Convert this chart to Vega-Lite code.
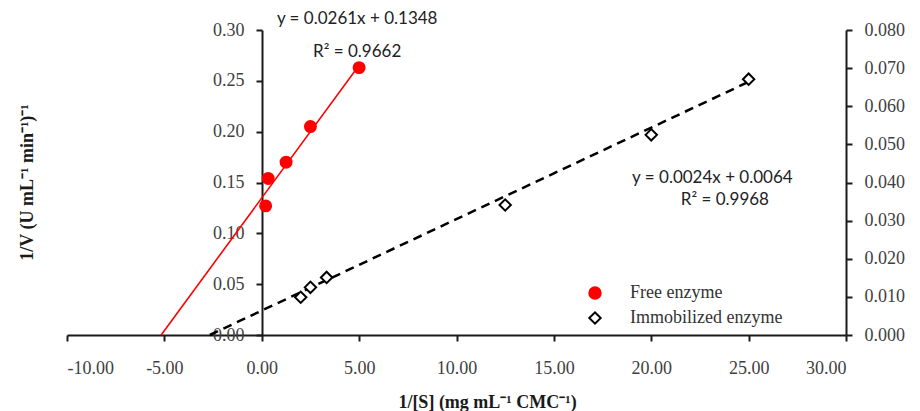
{
  "$schema": "https://vega.github.io/schema/vega-lite/v6.json",
  "width": 779,
  "height": 305,
  "autosize": {"type": "none"},
  "padding": {"left": 67, "top": 30, "right": 74, "bottom": 76},
  "background": "white",
  "config": {
    "view": {"stroke": null},
    "axis": {
      "grid": false,
      "domainColor": "#1a1a1a",
      "domainWidth": 2,
      "tickColor": "#1a1a1a",
      "tickWidth": 2,
      "tickSize": 6,
      "labelFont": "Liberation Serif",
      "labelFontSize": 18,
      "labelColor": "#404040",
      "titleFont": "Liberation Serif",
      "titleFontSize": 18,
      "titleFontWeight": "bold",
      "titleColor": "#1a1a1a"
    },
    "legend": {
      "labelFont": "Liberation Serif",
      "labelFontSize": 18,
      "labelColor": "#333333"
    }
  },
  "datasets": {
    "free": [
      {"x": 0.2, "y": 0.127, "series": "Free enzyme"},
      {"x": 0.33, "y": 0.154, "series": "Free enzyme"},
      {"x": 1.25, "y": 0.170, "series": "Free enzyme"},
      {"x": 2.5, "y": 0.205, "series": "Free enzyme"},
      {"x": 5.0, "y": 0.263, "series": "Free enzyme"}
    ],
    "immob": [
      {"x": 2.0, "y": 0.0099, "series": "Immobilized enzyme"},
      {"x": 2.5, "y": 0.0125, "series": "Immobilized enzyme"},
      {"x": 3.33, "y": 0.0151, "series": "Immobilized enzyme"},
      {"x": 12.5, "y": 0.0341, "series": "Immobilized enzyme"},
      {"x": 20.0, "y": 0.0525, "series": "Immobilized enzyme"},
      {"x": 25.0, "y": 0.0671, "series": "Immobilized enzyme"}
    ],
    "fitFree": [
      {"x": -5.165, "y": 0},
      {"x": 5.0, "y": 0.2653}
    ],
    "fitImmob": [
      {"x": -2.667, "y": 0},
      {"x": 25.0, "y": 0.0664}
    ],
    "textFree": [
      {"x": 4.9, "y": 0.311, "label": "y = 0.0261x + 0.1348"},
      {"x": 4.9, "y": 0.278, "label": "R² = 0.9662"}
    ],
    "textImmob": [
      {"x": 23.14, "y": 0.0411, "label": "y = 0.0024x + 0.0064"},
      {"x": 23.78, "y": 0.0354, "label": "R² = 0.9968"}
    ]
  },
  "encoding": {
    "x": {
      "field": "x",
      "type": "quantitative",
      "scale": {"domain": [-10, 30], "nice": false, "zero": false},
      "axis": {
        "values": [-10, -5, 0, 5, 10, 15, 20, 25, 30],
        "format": ".2f",
        "labelExpr": "replace(datum.label, '−', '-')",
        "labelFont": "Liberation Serif",
        "labelFontSize": 18,
        "labelColor": "#404040",
        "labelPadding": 18,
        "title": "1/[S] (mg mL⁻¹ CMC⁻¹)",
        "titleX": 420,
        "titleY": 67,
        "titleBaseline": "middle"
      }
    }
  },
  "layer": [
    {
      "encoding": {
        "y": {
          "field": "y",
          "type": "quantitative",
          "scale": {"domain": [0, 0.3], "nice": false, "zero": false},
          "axis": {
            "orient": "left",
            "offset": -195,
            "values": [0, 0.05, 0.1, 0.15, 0.2, 0.25, 0.3],
            "format": ".2f",
            "labelFont": "Liberation Serif",
            "labelFontSize": 18,
            "labelColor": "#404040",
            "labelPadding": 12,
            "title": "1/V (U mL⁻¹ min⁻¹)⁻¹",
            "titleX": -235,
            "titleY": 152,
            "titleBaseline": "middle"
          }
        }
      },
      "layer": [
        {
          "data": {"name": "fitFree"},
          "mark": {"type": "line", "color": "#ff0000", "strokeWidth": 1.6},
          "encoding": {}
        },
        {
          "data": {"name": "free"},
          "mark": {"type": "point", "filled": true, "size": 120, "strokeWidth": 2, "opacity": 1},
          "encoding": {
            "fill": {"field": "series", "type": "nominal", "scale": {"domain": ["Free enzyme", "Immobilized enzyme"], "range": ["#ff0000", "#ffffff"]}, "legend": {"orient": "none", "legendX": 519, "legendY": 254, "title": null, "padding": 0, "rowPadding": 5, "labelOffset": 26, "symbolSize": 130, "symbolStrokeWidth": 2}},
            "stroke": {"field": "series", "type": "nominal", "scale": {"domain": ["Free enzyme", "Immobilized enzyme"], "range": ["#ff0000", "#000000"]}, "legend": {"orient": "none", "legendX": 519, "legendY": 254, "title": null, "padding": 0, "rowPadding": 5, "labelOffset": 26, "symbolSize": 130, "symbolStrokeWidth": 2}},
            "shape": {"field": "series", "type": "nominal", "scale": {"domain": ["Free enzyme", "Immobilized enzyme"], "range": ["circle", "diamond"]}, "legend": {"orient": "none", "legendX": 519, "legendY": 254, "title": null, "padding": 0, "rowPadding": 5, "labelOffset": 26, "symbolSize": 130, "symbolStrokeWidth": 2}}
          }
        },
        {
          "data": {"name": "textFree"},
          "mark": {"type": "text", "font": "Lato", "fontSize": 17, "color": "#222222", "align": "center", "baseline": "middle"},
          "encoding": {"text": {"field": "label"}}
        }
      ]
    },
    {
      "encoding": {
        "y": {
          "field": "y",
          "type": "quantitative",
          "scale": {"domain": [0, 0.08], "nice": false, "zero": false},
          "axis": {
            "orient": "right",
            "values": [0, 0.01, 0.02, 0.03, 0.04, 0.05, 0.06, 0.07, 0.08],
            "format": ".3f",
            "labelFont": "Liberation Serif",
            "labelFontSize": 18,
            "labelColor": "#404040",
            "labelPadding": 12,
            "title": null
          }
        }
      },
      "layer": [
        {
          "data": {"name": "fitImmob"},
          "mark": {"type": "line", "color": "#000000", "strokeWidth": 2.5, "strokeDash": [9, 6]},
          "encoding": {}
        },
        {
          "data": {"name": "immob"},
          "mark": {"type": "point", "filled": true, "size": 130, "strokeWidth": 2, "opacity": 1},
          "encoding": {
            "fill": {"field": "series", "type": "nominal", "scale": {"domain": ["Free enzyme", "Immobilized enzyme"], "range": ["#ff0000", "#ffffff"]}, "legend": {"orient": "none", "legendX": 519, "legendY": 254, "title": null, "padding": 0, "rowPadding": 5, "labelOffset": 26, "symbolSize": 130, "symbolStrokeWidth": 2}},
            "stroke": {"field": "series", "type": "nominal", "scale": {"domain": ["Free enzyme", "Immobilized enzyme"], "range": ["#ff0000", "#000000"]}, "legend": {"orient": "none", "legendX": 519, "legendY": 254, "title": null, "padding": 0, "rowPadding": 5, "labelOffset": 26, "symbolSize": 130, "symbolStrokeWidth": 2}},
            "shape": {"field": "series", "type": "nominal", "scale": {"domain": ["Free enzyme", "Immobilized enzyme"], "range": ["circle", "diamond"]}, "legend": {"orient": "none", "legendX": 519, "legendY": 254, "title": null, "padding": 0, "rowPadding": 5, "labelOffset": 26, "symbolSize": 130, "symbolStrokeWidth": 2}}
          }
        },
        {
          "data": {"name": "textImmob"},
          "mark": {"type": "text", "font": "Lato", "fontSize": 17, "color": "#222222", "align": "center", "baseline": "middle"},
          "encoding": {"text": {"field": "label"}}
        }
      ]
    }
  ],
  "resolve": {"scale": {"y": "independent"}}
}
